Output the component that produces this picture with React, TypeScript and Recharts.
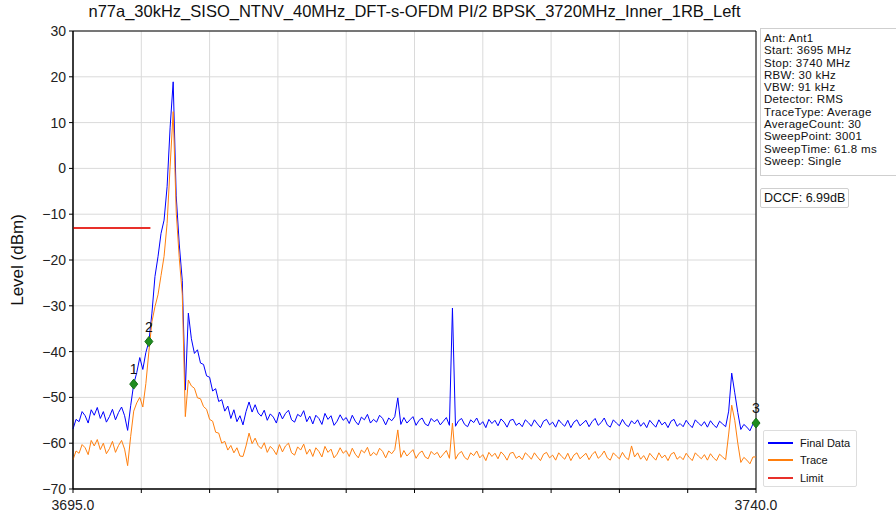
import {
  CartesianGrid,
  ComposedChart,
  Line,
  ReferenceArea,
  Scatter,
  XAxis,
  YAxis,
} from "recharts";

const TITLE = "n77a_30kHz_SISO_NTNV_40MHz_DFT-s-OFDM PI/2 BPSK_3720MHz_Inner_1RB_Left";

// sweep grid: start + i * step (MHz)
const FREQ_START = 3695;
const FREQ_STEP = 0.2;

// dBm, one value per sweep point
const FINAL_DATA = [
  -56.9, -54.8, -55.3, -53.1, -54.0, -55.6, -52.7, -53.9, -52.2, -54.6,
  -53.1, -55.4, -54.2, -52.6, -54.9, -53.3, -52.1, -54.0, -57.2, -51.8,
  -47.1, -44.6, -41.3, -43.9, -40.2, -37.8, -31.6, -23.6, -19.3, -14.2,
  -11.3, -4.0, 9.0, 18.9, -6.0, -16.5, -24.5, -48.4, -31.6, -37.2,
  -40.4, -39.6, -42.5, -42.8, -45.3, -45.6, -48.6, -48.1, -50.9, -50.5,
  -53.0, -51.9, -54.6, -52.7, -55.3, -54.0, -56.0, -53.1, -51.0, -53.2,
  -51.6, -53.4, -54.1, -52.8, -55.0, -53.6, -54.3, -55.6, -53.2, -54.7,
  -53.5, -52.8, -54.9, -55.4, -53.7, -54.2, -52.9, -55.3, -54.1, -55.8,
  -53.9, -54.6, -55.9, -53.5, -54.8, -54.0, -56.1, -55.2, -53.8, -55.0,
  -54.4, -55.7, -53.9, -55.2, -56.0, -54.3, -54.9, -53.7, -55.6, -54.8,
  -55.4, -53.9, -54.6, -56.0, -54.5, -55.1, -54.2, -50.1, -55.9, -54.4,
  -55.6, -54.9, -54.2, -56.1, -55.0, -54.5, -55.8, -56.2, -54.6, -55.3,
  -54.8, -56.0, -55.2, -54.4, -56.1, -30.5, -56.3, -55.1, -54.6, -55.9,
  -56.4, -54.9, -55.5, -54.5, -56.0, -55.3, -56.6, -54.8, -55.7, -55.0,
  -56.2, -54.7, -55.4, -56.5, -55.0, -54.8, -56.1, -55.6, -56.4, -54.9,
  -55.5, -56.3, -54.9, -55.8, -56.6, -55.2, -54.8, -56.0, -55.4, -56.5,
  -54.9, -55.7, -56.3, -55.0, -56.6, -55.4, -54.9, -56.2, -55.6, -55.0,
  -56.4, -55.3, -54.6, -56.1, -55.5, -54.5, -56.0, -56.5, -54.9, -55.6,
  -56.2, -54.8, -55.9, -56.4, -55.1, -55.8, -54.9, -56.3, -55.5, -56.6,
  -55.0, -55.8, -56.5, -54.9, -56.0, -55.4, -56.6, -55.2, -54.8, -56.3,
  -55.7, -56.4, -55.0, -55.9, -56.6, -54.9, -55.6, -56.2, -55.3, -56.5,
  -55.1, -56.0, -56.6, -55.2, -55.8, -56.4, -53.0, -44.7, -49.0, -53.3,
  -57.0, -55.9, -56.5, -57.3, -55.8, -55.6,
];

const TRACE = [
  -63.6, -61.7, -62.2, -60.3, -61.0, -62.5, -59.4, -60.6, -59.2, -61.4,
  -60.0, -62.3, -61.2, -59.6, -62.0, -60.5, -59.4, -61.3, -64.9, -58.5,
  -53.0, -51.2, -50.0, -52.1, -47.0, -40.0, -33.5, -30.2, -27.6, -23.4,
  -19.2, -12.0, 0.5, 12.4, -9.5, -19.5, -27.5, -54.2, -46.2, -47.5,
  -48.0, -50.1, -50.3, -52.0, -52.6, -54.8, -55.2, -57.6, -57.8, -60.0,
  -59.6, -61.5, -60.5, -62.1, -61.0, -62.8, -62.9, -60.6, -57.8, -60.1,
  -58.9, -60.5, -61.2, -59.9, -62.0, -60.7, -61.4, -62.5, -60.3, -61.9,
  -60.6, -60.0, -62.1, -62.6, -60.8, -61.5, -60.2, -62.4, -61.3, -62.9,
  -61.0, -61.8, -63.0, -60.7, -62.0, -61.3, -63.2, -62.4, -61.0, -62.2,
  -61.6, -62.9, -61.1, -62.4, -63.2, -61.5, -62.1, -60.9, -62.8, -62.0,
  -62.6, -61.1, -61.8, -63.2, -61.7, -62.3, -61.4, -57.1, -63.1, -61.6,
  -62.8, -62.1, -61.4, -63.3, -62.2, -61.7, -63.0, -63.4, -61.8, -62.5,
  -62.0, -63.2, -62.4, -61.6, -63.3, -55.6, -63.5, -62.3, -61.8, -63.1,
  -63.6, -62.1, -62.7, -61.7, -63.2, -62.5, -63.8, -62.0, -62.9, -62.2,
  -63.4, -61.9, -62.6, -63.7, -62.2, -62.0, -63.3, -62.8, -63.6, -62.1,
  -62.7, -63.5, -62.1, -63.0, -63.8, -62.4, -62.0, -63.2, -62.6, -63.7,
  -62.1, -62.9, -63.5, -62.2, -63.8, -62.6, -62.1, -63.4, -62.8, -62.2,
  -63.6, -62.5, -61.8, -63.3, -62.7, -61.7, -63.2, -63.7, -62.1, -62.8,
  -63.4, -62.0, -63.1, -63.6, -60.6, -63.0, -62.1, -63.5, -62.7, -63.8,
  -62.2, -63.0, -63.7, -62.1, -63.2, -62.6, -63.8, -62.4, -62.0, -63.5,
  -62.9, -63.6, -62.2, -63.1, -63.8, -62.1, -62.8, -63.4, -62.5, -63.7,
  -62.3, -63.2, -63.8, -62.4, -63.0, -63.6, -58.0, -51.7, -55.0, -60.0,
  -64.2, -63.1, -63.7, -64.5, -63.0, -63.0,
];

const LIMIT_FREQ = [3695, 3700.1];
const LIMIT_LEVEL = [-13, -13];

const MARKER_NAMES = ["1", "2", "3"];
const MARKER_FREQ = [3699.0, 3700.0, 3740.0];
const MARKER_LEVEL = [-47.1, -37.8, -55.6];

const X_TICKS = [3695, 3699.5, 3704, 3708.5, 3713, 3717.5, 3722, 3726.5, 3731, 3735.5, 3740];
const X_LABELED = [3695, 3740];
const Y_TICKS = [-70, -60, -50, -40, -30, -20, -10, 0, 10, 20, 30];

const INFO_LINES = [
  "Ant: Ant1",
  "Start: 3695 MHz",
  "Stop: 3740 MHz",
  "RBW: 30 kHz",
  "VBW: 91 kHz",
  "Detector: RMS",
  "TraceType: Average",
  "AverageCount: 30",
  "SweepPoint: 3001",
  "SweepTime: 61.8 ms",
  "Sweep: Single",
];
const DCCF_TEXT = "DCCF: 6.99dB";

const LEGEND_NAMES = ["Final Data", "Trace", "Limit"];
const LEGEND_COLORS = ["#0000ff", "#ff7f0e", "#e8302a"];

const FONT = '"Liberation Sans", Arial, sans-serif';

const rows = FINAL_DATA.map((v, i) => ({
  f: +(FREQ_START + i * FREQ_STEP).toFixed(1),
  final: v,
  trace: TRACE[i],
}));
const limitRows = LIMIT_FREQ.map((f, i) => ({ f, v: LIMIT_LEVEL[i] }));
const markerRows = MARKER_FREQ.map((f, i) => ({ f, v: MARKER_LEVEL[i], name: MARKER_NAMES[i] }));

function MarkerShape(props: any) {
  const { cx, cy, payload } = props;
  return (
    <g>
      <polygon
        points={`${cx},${cy - 5} ${cx + 4},${cy} ${cx},${cy + 5} ${cx - 4},${cy}`}
        fill="#1f8c1f"
        stroke="#177017"
      />
      <text x={cx} y={cy - 10} textAnchor="middle" fontSize={14} fontFamily={FONT} fill="#111">
        {payload.name}
      </text>
    </g>
  );
}

export default function App() {
  return (
    <div
      style={{
        position: "relative",
        width: 896,
        height: 517,
        overflow: "hidden",
        background: "#fff",
        fontFamily: FONT,
      }}
    >
      <style>{"body{margin:0}"}</style>
      <div
        style={{
          position: "absolute",
          left: 73,
          width: 683,
          top: 2,
          textAlign: "center",
          fontSize: 16.5,
          color: "#111",
          whiteSpace: "nowrap",
        }}
      >
        {TITLE}
      </div>
      <div
        style={{
          position: "absolute",
          left: 18,
          top: 260,
          transform: "translate(-50%, -50%) rotate(-90deg)",
          fontSize: 17,
          color: "#111",
          whiteSpace: "nowrap",
        }}
      >
        Level (dBm)
      </div>

      <ComposedChart
        width={896}
        height={517}
        data={rows}
        margin={{ top: 31, right: 140, bottom: 3, left: 28 }}
      >
        <CartesianGrid stroke="#dadada" strokeWidth={1} />
        <XAxis
          dataKey="f"
          type="number"
          domain={[3695, 3740]}
          ticks={X_TICKS}
          interval={0}
          height={25}
          tickSize={4}
          tickMargin={7}
          tickLine={{ stroke: "#000" }}
          axisLine={{ stroke: "#000" }}
          tick={{ fontSize: 14, fill: "#222", fontFamily: FONT }}
          tickFormatter={(v: number) => (X_LABELED.includes(v) ? v.toFixed(1) : "")}
        />
        <YAxis
          type="number"
          domain={[-70, 30]}
          ticks={Y_TICKS}
          interval={0}
          width={45}
          tickSize={4}
          tickMargin={3}
          tickLine={{ stroke: "#000" }}
          axisLine={{ stroke: "#000" }}
          tick={{ fontSize: 14, fill: "#222", fontFamily: FONT }}
          tickFormatter={(v: number) => String(v).replace("-", "\u2212")}
        />
        <ReferenceArea x1={3695} x2={3740} y1={-70} y2={30} fill="none" stroke="#000" strokeWidth={1} />
        <Line
          dataKey="final"
          name="Final Data"
          stroke="#0000ff"
          strokeWidth={1}
          dot={false}
          isAnimationActive={false}
        />
        <Line
          dataKey="trace"
          name="Trace"
          stroke="#ff7f0e"
          strokeWidth={1}
          dot={false}
          isAnimationActive={false}
        />
        <Line
          data={limitRows}
          dataKey="v"
          name="Limit"
          stroke="#e8302a"
          strokeWidth={2}
          dot={false}
          isAnimationActive={false}
        />
        <Scatter
          data={markerRows}
          dataKey="v"
          shape={MarkerShape}
          legendType="none"
          isAnimationActive={false}
        />
      </ComposedChart>

      <div
        style={{
          position: "absolute",
          left: 760,
          top: 28,
          width: 140,
          padding: "3px 3px 8px 3px",
          border: "1px solid #cfcfcf",
          background: "#fff",
          fontSize: 11.5,
          lineHeight: "12.3px",
          color: "#111",
          boxSizing: "border-box",
        }}
      >
        {INFO_LINES.map((l) => (
          <div key={l} style={{ whiteSpace: "nowrap", height: 12.3, letterSpacing: 0.3 }}>
            {l}
          </div>
        ))}
      </div>
      <div
        style={{
          position: "absolute",
          left: 760,
          top: 188,
          padding: "2px 3px",
          border: "1px solid #cfcfcf",
          borderRadius: 2,
          background: "#fff",
          fontSize: 12.5,
          color: "#111",
          whiteSpace: "nowrap",
        }}
      >
        {DCCF_TEXT}
      </div>

      <div
        style={{
          position: "absolute",
          left: 763,
          top: 430,
          width: 94,
          height: 57,
          border: "1px solid #dddddd",
          borderRadius: 2,
          background: "#fff",
          boxSizing: "border-box",
          paddingTop: 3,
        }}
      >
        {LEGEND_NAMES.map((n, i) => (
          <div key={n} style={{ display: "flex", alignItems: "center", height: 17.5 }}>
            <div style={{ marginLeft: 4, width: 25, height: 2, background: LEGEND_COLORS[i] }} />
            <span style={{ marginLeft: 7, fontSize: 11, color: "#111" }}>{n}</span>
          </div>
        ))}
      </div>
    </div>
  );
}
